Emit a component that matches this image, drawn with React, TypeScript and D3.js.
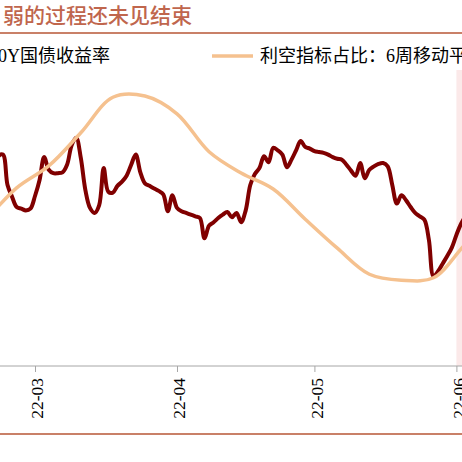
import React, { useEffect, useRef } from "react";
import * as d3 from "d3";

// 10Y 国债收益率 (daily, %)
const yieldDates = [
  "2022-02-19", "2022-02-20", "2022-02-21", "2022-02-22", "2022-02-23", "2022-02-24", "2022-02-25", "2022-02-26", "2022-02-27", "2022-02-28",
  "2022-03-01", "2022-03-02", "2022-03-03", "2022-03-04", "2022-03-05", "2022-03-06", "2022-03-07", "2022-03-08", "2022-03-09", "2022-03-10",
  "2022-03-11", "2022-03-12", "2022-03-13", "2022-03-14", "2022-03-15", "2022-03-16", "2022-03-17", "2022-03-18", "2022-03-19", "2022-03-20",
  "2022-03-21", "2022-03-22", "2022-03-23", "2022-03-24", "2022-03-25", "2022-03-26", "2022-03-27", "2022-03-28", "2022-03-29", "2022-03-30",
  "2022-03-31", "2022-04-01", "2022-04-02", "2022-04-03", "2022-04-04", "2022-04-05", "2022-04-06", "2022-04-07", "2022-04-08", "2022-04-09",
  "2022-04-10", "2022-04-11", "2022-04-12", "2022-04-13", "2022-04-14", "2022-04-15", "2022-04-16", "2022-04-17", "2022-04-18", "2022-04-19",
  "2022-04-20", "2022-04-21", "2022-04-22", "2022-04-23", "2022-04-24", "2022-04-25", "2022-04-26", "2022-04-27", "2022-04-28", "2022-04-29",
  "2022-04-30", "2022-05-01", "2022-05-02", "2022-05-03", "2022-05-04", "2022-05-05", "2022-05-06", "2022-05-07", "2022-05-08", "2022-05-09",
  "2022-05-10", "2022-05-11", "2022-05-12", "2022-05-13", "2022-05-14", "2022-05-15", "2022-05-16", "2022-05-17", "2022-05-18", "2022-05-19",
  "2022-05-20", "2022-05-21", "2022-05-22", "2022-05-23", "2022-05-24", "2022-05-25", "2022-05-26", "2022-05-27", "2022-05-28", "2022-05-29",
  "2022-05-30", "2022-05-31", "2022-06-01", "2022-06-02", "2022-06-03", "2022-06-04",
];
const yieldValues = [
  2.825, 2.832, 2.848, 2.85, 2.814, 2.8, 2.788, 2.786, 2.784, 2.786,
  2.801, 2.82, 2.847, 2.832, 2.828, 2.828, 2.829, 2.838, 2.861, 2.87,
  2.846, 2.808, 2.787, 2.781, 2.79, 2.834, 2.806, 2.805, 2.813, 2.818,
  2.825, 2.838, 2.85, 2.829, 2.816, 2.813, 2.81, 2.807, 2.803, 2.783,
  2.802, 2.787, 2.783, 2.781, 2.779, 2.777, 2.775, 2.751, 2.766, 2.77,
  2.775, 2.779, 2.782, 2.776, 2.781, 2.77, 2.784, 2.814, 2.827, 2.834,
  2.848, 2.841, 2.858, 2.855, 2.85, 2.835, 2.844, 2.855, 2.866, 2.859,
  2.857, 2.854, 2.853, 2.852, 2.85, 2.847, 2.845, 2.844, 2.838, 2.831,
  2.825, 2.84, 2.822, 2.832, 2.836, 2.839, 2.84, 2.836, 2.814, 2.792,
  2.802, 2.796, 2.788, 2.781, 2.777, 2.773, 2.749, 2.706, 2.712, 2.721,
  2.73, 2.74, 2.755, 2.768, 2.777, 2.782,
];

// 利空指标占比：6周移动平均 (weekly, %)
const ratioDates = [
  "2022-02-18", "2022-02-25", "2022-03-04", "2022-03-11", "2022-03-18", "2022-03-25",
  "2022-04-01", "2022-04-08", "2022-04-15", "2022-04-22", "2022-04-29", "2022-05-06",
  "2022-05-13", "2022-05-20", "2022-05-27", "2022-06-03", "2022-06-10",
];
const ratioValues = [34.3, 40.1, 43.8, 49.4, 55.4, 55.6, 52.6, 46.2, 42.6, 39.9, 34.8, 29.9, 25.5, 24.5, 24.9, 30.6, 35.5];

const shadeRange = ["2022-06-01", "2022-06-30"];
const titleText = "弱的过程还未见结束";
const legendYield = "10Y国债收益率";
const legendRatio = "利空指标占比：6周移动平均";

const W = 462;
const H = 462;

export default function App() {
  const svgRef = useRef<SVGSVGElement>(null);

  useEffect(() => {
    const svg = d3.select(svgRef.current);
    svg.selectAll("*").remove();

    const parse = d3.timeParse("%Y-%m-%d");
    const top = 70;
    const bottom = 366;

    const x = d3
      .scaleTime()
      .domain([parse("2022-03-01")!, parse("2022-06-01")!])
      .range([35, 456.4]);
    const yY = d3.scaleLinear().domain([2.6, 2.95]).range([bottom, top]);
    const yR = d3.scaleLinear().domain([10, 60]).range([bottom, top]);

    const serif = "'Liberation Serif','Times New Roman','Noto Sans CJK SC',serif";

    // title + rules
    svg.append("text")
      .attr("x", 3).attr("y", 23)
      .attr("fill", "#c0664d")
      .attr("font-size", 21)
      .attr("font-weight", 500)
      .attr("font-family", "'Noto Sans CJK SC',sans-serif")
      .text(titleText);
    svg.append("line").attr("x1", 0).attr("x2", W).attr("y1", 33).attr("y2", 33)
      .attr("stroke", "#c98068").attr("stroke-width", 2);
    svg.append("line").attr("x1", 0).attr("x2", W).attr("y1", 434).attr("y2", 434)
      .attr("stroke", "#c98068").attr("stroke-width", 2);

    // legend
    svg.append("line").attr("x1", -60).attr("x2", -20).attr("y1", 56).attr("y2", 56)
      .attr("stroke", "#800000").attr("stroke-width", 4);
    svg.append("text").attr("x", -11).attr("y", 62).attr("font-size", 18)
      .attr("font-family", serif).text(legendYield);
    svg.append("line").attr("x1", 212).attr("x2", 253).attr("y1", 56).attr("y2", 56)
      .attr("stroke", "#f5c18f").attr("stroke-width", 3.5);
    svg.append("text").attr("x", 260).attr("y", 62).attr("font-size", 18)
      .attr("font-family", serif).text(legendRatio);

    // shaded period
    const s0 = x(parse(shadeRange[0])!);
    const s1 = x(parse(shadeRange[1])!);
    svg.append("rect").attr("x", s0).attr("y", top).attr("width", s1 - s0)
      .attr("height", bottom - top).attr("fill", "#fbe9e9");

    // x axis
    svg.append("line").attr("x1", 0).attr("x2", W).attr("y1", bottom).attr("y2", bottom)
      .attr("stroke", "#a6a6a6").attr("stroke-width", 1);
    const axis = svg.append("g").attr("transform", `translate(0,${bottom})`)
      .call(
        d3.axisBottom(x)
          .ticks(d3.timeMonth.every(1))
          .tickFormat((d) => d3.timeFormat("%y-%m")(d as Date))
          .tickSize(6)
      );
    axis.select(".domain").remove();
    axis.selectAll(".tick line").attr("stroke", "#a6a6a6");
    axis.selectAll(".tick text")
      .attr("x", -12).attr("y", 0).attr("dy", "0.45em")
      .attr("transform", "rotate(-90)")
      .style("text-anchor", "end")
      .attr("fill", "#000")
      .attr("font-size", 17.5)
      .attr("font-family", serif);

    // lines
    const yieldData = yieldDates.map((d, i) => ({ date: parse(d)!, v: yieldValues[i] }));
    const ratioData = ratioDates.map((d, i) => ({ date: parse(d)!, v: ratioValues[i] }));

    const yieldLine = d3.line<{ date: Date; v: number }>()
      .x((d) => x(d.date)).y((d) => yY(d.v))
      .curve(d3.curveCatmullRom.alpha(0.5));
    const ratioLine = d3.line<{ date: Date; v: number }>()
      .x((d) => x(d.date)).y((d) => yR(d.v))
      .curve(d3.curveCatmullRom.alpha(0.5));

    svg.append("path").datum(yieldData).attr("d", yieldLine)
      .attr("fill", "none").attr("stroke", "#800000").attr("stroke-width", 4)
      .attr("stroke-linejoin", "round");
    svg.append("path").datum(ratioData).attr("d", ratioLine)
      .attr("fill", "none").attr("stroke", "#f5c18f").attr("stroke-width", 3.5)
      .attr("stroke-linejoin", "round");
  }, []);

  return (
    <div style={{ position: "fixed", left: 0, top: 0, width: W, height: H, overflow: "hidden", background: "#fff" }}>
      <svg ref={svgRef} width={W} height={H} style={{ display: "block" }} />
    </div>
  );
}
